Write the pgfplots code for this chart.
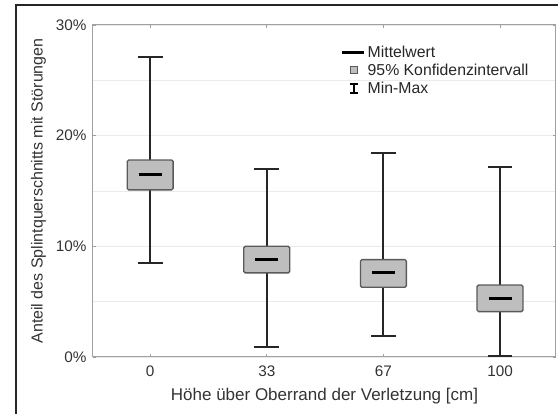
\documentclass[border=0pt]{standalone}
\usepackage{fontspec}
\setmainfont{Liberation Sans}
\usepackage{pgfplots}
\pgfplotsset{compat=1.18}
\usepgfplotslibrary{statistics}
\definecolor{boxgray}{HTML}{BEBEBE}
\definecolor{edgegray}{HTML}{5A5A5A}
\definecolor{spine}{HTML}{A0A0A0}
\definecolor{gridc}{HTML}{EBEBEB}
\begin{document}
\begin{tikzpicture}[x=1pt,y=1pt]
\useasboundingbox (0,0) rectangle (558,414);
\draw[line width=1.6pt, black!85] (16,0) -- (16,409) -- (558,409);
\begin{axis}[
  at={(93pt,57pt)}, anchor=south west,
  scale only axis, width=463pt, height=332pt,
  xmin=-0.49, xmax=3.48, ymin=0, ymax=30,
  xtick={0,1,2,3}, xticklabels={0,33,67,100},
  ytick={0,10,20,30}, minor ytick={5,15,25},
  yticklabel={\pgfmathprintnumber{\tick}\%},
  /pgf/number format/assume math mode=true,
  ymajorgrids, yminorgrids,
  major grid style={gridc, line width=0.8pt},
  minor grid style={gridc, line width=0.8pt},
  axis line style={spine, line width=1pt},
  tick style={spine, line width=0.8pt},
  major tick length=3pt, minor tick length=0pt,
  tick align=inside,
  ticklabel style={font=\fontsize{15.3}{17}\selectfont, text=black!80},
  xticklabel style={yshift=-5pt},
  yticklabel style={xshift=-3pt},
  xlabel={Höhe über Oberrand der Verletzung [cm]},
  ylabel={Anteil des Splintquerschnitts mit Störungen},
  xlabel style={font=\fontsize{17}{19}\selectfont, text=black!80, yshift=-5pt},
  ylabel style={font=\fontsize{16}{18}\selectfont, text=black!80, yshift=3pt},
  boxplot/draw direction=y,
  boxplot/box extend=0.394,
  boxplot/whisker extend=0.214,
  boxplot/every box/.style={draw=edgegray, line width=1.3pt, fill=boxgray, rounded corners=1.5pt},
  boxplot/every whisker/.style={black!85, line width=1.9pt},
  boxplot/draw/median/.code={%
    \draw[line width=3pt, black]
      (boxplot box cs:\pgfplotsboxplotvalue{median},0.25) --
      (boxplot box cs:\pgfplotsboxplotvalue{median},0.75);},
  legend cell align=left,
  legend style={at={(0.535,0.944)}, anchor=north west, draw=none, fill=none,
    font=\fontsize{15.8}{18}\selectfont, text=black!85, row sep=1pt,
    inner sep=0pt},
]
\addplot+[forget plot, solid, black!85, line width=1.9pt, mark=none,
  boxplot prepared={draw position=0, lower whisker=8.5, lower quartile=15.1,
    median=16.5, upper quartile=17.8, upper whisker=27.1}]
  coordinates {};
\addplot+[forget plot, solid, black!85, line width=1.9pt, mark=none,
  boxplot prepared={draw position=1, lower whisker=0.9, lower quartile=7.6,
    median=8.85, upper quartile=10.0, upper whisker=17.0}]
  coordinates {};
\addplot+[forget plot, solid, black!85, line width=1.9pt, mark=none,
  boxplot prepared={draw position=2, lower whisker=1.9, lower quartile=6.3,
    median=7.6, upper quartile=8.8, upper whisker=18.4}]
  coordinates {};
\addplot+[forget plot, solid, black!85, line width=1.9pt, mark=none,
  boxplot prepared={draw position=3, lower whisker=0.1, lower quartile=4.1,
    median=5.3, upper quartile=6.5, upper whisker=17.2}]
  coordinates {};
\addlegendimage{legend image code/.code={\draw[line width=2.8pt, black] (0pt,0pt) -- (22pt,0pt);}}
\addlegendentry{Mittelwert}
\addlegendimage{legend image code/.code={\draw[fill=boxgray, draw=edgegray, line width=0.9pt] (8pt,-3.5pt) rectangle (15pt,3.5pt);}}
\addlegendentry{95\% Konfidenzintervall}
\addlegendimage{legend image code/.code={\draw[line width=2.3pt, black] (7.5pt,-4.5pt) -- (15.5pt,-4.5pt) (11.5pt,-4.5pt) -- (11.5pt,4.5pt) (7.5pt,4.5pt) -- (15.5pt,4.5pt);}}
\addlegendentry{Min-Max}
\end{axis}
\end{tikzpicture}
\end{document}
